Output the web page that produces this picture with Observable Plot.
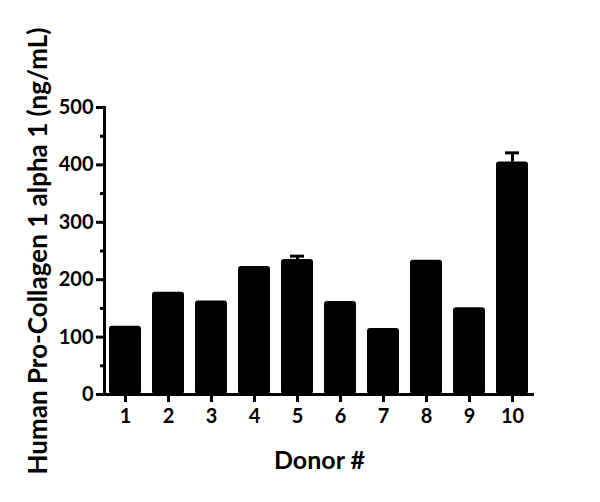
<!DOCTYPE html>
<html>
<head>
<meta charset="utf-8">
<script src="https://cdn.jsdelivr.net/npm/d3@7"></script>
<script src="https://cdn.jsdelivr.net/npm/@observablehq/plot@0.6"></script>
<style>
  body { margin: 0; background: #fff; }
  svg { font-family: "Lato", "DejaVu Sans", sans-serif; }
</style>
</head>
<body>
<div id="chart"></div>
<script>
const donors = ["1", "2", "3", "4", "5", "6", "7", "8", "9", "10"];
const values = [119, 178, 163, 223, 235, 162, 115, 234, 151, 405];
const errors = [0, 0, 0, 0, 6, 0, 0, 0, 0, 16];
const majorTicks = [0, 100, 200, 300, 400, 500];
const minorTicks = [50, 150, 250, 350, 450];
const yLabel = "Human Pro-Collagen 1 alpha 1 (ng/mL)";
const xLabel = "Donor #";

const data = donors.map((d, i) => ({donor: d, value: values[i], err: errors[i]}));
const errData = data.filter(d => d.err > 0);

const chart = Plot.plot({
  width: 600,
  height: 502,
  marginLeft: 104,
  marginRight: 66,
  marginTop: 107,
  marginBottom: 108,
  style: {fontFamily: "Lato, 'DejaVu Sans', sans-serif", fontWeight: "bold", color: "#000", background: "#fff"},
  x: {domain: donors, paddingInner: 0.25, paddingOuter: 0.125},
  y: {domain: [0, 500]},
  marks: [
    Plot.barY(data, {x: "donor", y: "value", fill: "#000", rx: 3}),
    Plot.ruleX(errData, {x: "donor", y1: "value", y2: d => d.value + d.err, stroke: "#000", strokeWidth: 3}),
    Plot.tickY(errData, {x: "donor", y: d => d.value + d.err, stroke: "#000", strokeWidth: 3, insetLeft: 9, insetRight: 9}),
    Plot.axisY({ticks: majorTicks, tickSize: 8, tickPadding: 3, strokeWidth: 3, fontSize: 20, fontWeight: "bold", label: null}),
    Plot.axisY({ticks: minorTicks, tickSize: 4, strokeWidth: 3, tickFormat: () => "", label: null}),
    Plot.axisX({tickSize: 8, tickPadding: 6, strokeWidth: 3, fontSize: 20, fontWeight: "bold", label: null}),
    Plot.frame({anchor: "left", stroke: "#000", strokeWidth: 3}),
    Plot.ruleY([0], {stroke: "#000", strokeWidth: 3}),
    Plot.text([yLabel], {frameAnchor: "left", rotate: -90, textAnchor: "middle", lineAnchor: "middle", dx: -66, fontSize: 26, fontWeight: "bold", fill: "#000"}),
    Plot.text([xLabel], {frameAnchor: "bottom", textAnchor: "middle", lineAnchor: "middle", dy: 66, fontSize: 25, fontWeight: "bold", fill: "#000"})
  ]
});
document.getElementById("chart").appendChild(chart);
</script>
</body>
</html>
